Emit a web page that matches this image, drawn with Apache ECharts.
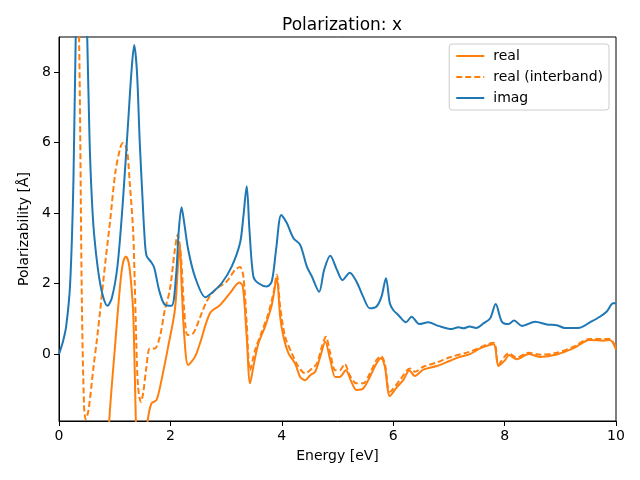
<!DOCTYPE html>
<html>
<head>
<meta charset="utf-8">
<script src="https://cdn.jsdelivr.net/npm/echarts@6/dist/echarts.min.js"></script>
<style>html,body{margin:0;padding:0;background:#fff}#c{width:640px;height:480px}</style>
</head>
<body>
<div id="c"></div>
<script>
const xTicks = [0, 2, 4, 6, 8, 10];
const yTicks = [0, 2, 4, 6, 8];

const realE = [0.86,0.9,1.0,1.1,1.15,1.2,1.25,1.29,1.33,1.36,1.38,1.42,1.5,1.56,1.59,1.66,1.75,1.84,1.96,2.08,2.14,2.17,2.2,2.25,2.32,2.44,2.53,2.71,2.89,3.07,3.24,3.30,3.37,3.43,3.50,3.58,3.70,3.82,3.91,3.97,4.03,4.12,4.24,4.33,4.42,4.51,4.60,4.69,4.78,4.87,4.96,5.04,5.15,5.25,5.34,5.46,5.58,5.70,5.78,5.85,5.94,6.06,6.18,6.29,6.39,6.54,6.78,7.02,7.20,7.38,7.56,7.80,7.89,8.01,8.08,8.22,8.43,8.64,8.94,9.23,9.53,9.77,9.89,10];
const realV = [-3.5,-1.93,0.11,2.0,2.6,2.77,2.6,2.1,1.25,-0.5,-1.93,-4,-4,-2.8,-1.93,-1.4,-1.31,-0.74,0.21,1.25,2.6,3.1,2.0,0.5,-0.31,-0.08,0.3,1.16,1.39,1.73,2.03,1.92,0.49,-0.83,-0.27,0.3,0.78,1.39,2.15,1.06,0.49,0.02,-0.27,-0.65,-0.74,-0.6,-0.5,-0.08,0.35,-0.17,-0.65,-0.65,-0.46,-0.79,-1.02,-0.98,-0.65,-0.27,-0.12,-0.36,-1.19,-0.95,-0.74,-0.47,-0.62,-0.44,-0.34,-0.19,-0.08,0.0,0.16,0.28,-0.34,-0.17,-0.03,-0.15,0.0,-0.08,-0.01,0.16,0.4,0.38,0.4,0.13];

const interE = [0.2,0.3,0.36,0.41,0.45,0.48,0.53,0.62,0.68,0.74,0.83,0.92,1.01,1.10,1.15,1.22,1.27,1.33,1.36,1.39,1.42,1.47,1.51,1.57,1.63,1.72,1.81,1.90,1.99,2.08,2.13,2.19,2.25,2.31,2.41,2.53,2.65,2.80,3.01,3.16,3.25,3.31,3.37,3.43,3.52,3.64,3.76,3.85,3.91,3.97,4.06,4.18,4.30,4.42,4.54,4.63,4.72,4.79,4.87,4.96,5.04,5.13,5.22,5.34,5.46,5.58,5.70,5.78,5.85,5.94,6.12,6.30,6.39,6.54,6.78,7.02,7.38,7.80,7.89,8.07,8.22,8.43,8.64,8.94,9.23,9.53,9.89,10];
const interV = [20,12,9,1.54,-1.5,-1.85,-1.59,-0.36,0.4,1.25,2.58,3.81,5.14,5.85,5.99,5.8,4.86,3.53,2.01,0.21,-0.93,-1.36,-1.12,-0.36,0.16,0.16,0.49,1.25,1.82,2.96,3.39,2.77,1.2,0.54,0.59,1.03,1.49,1.82,2.06,2.39,2.47,2.2,0.87,-0.46,0.11,0.63,1.16,1.73,2.25,1.35,0.49,0.02,-0.36,-0.55,-0.41,-0.27,0.21,0.49,0.02,-0.46,-0.46,-0.28,-0.6,-0.83,-0.83,-0.55,-0.17,-0.06,-0.27,-1.07,-0.74,-0.41,-0.5,-0.36,-0.24,-0.09,0.07,0.32,-0.29,0.02,-0.1,0.04,-0.02,0.04,0.2,0.43,0.43,0.16];

const imagE = [0,0.07,0.13,0.2,0.26,0.32,0.4,0.5,0.55,0.59,0.63,0.7,0.78,0.87,0.95,1.05,1.15,1.25,1.3,1.35,1.4,1.45,1.5,1.53,1.57,1.66,1.71,1.8,1.9,2.02,2.1,2.15,2.2,2.25,2.32,2.44,2.63,2.74,2.92,3.1,3.25,3.31,3.37,3.42,3.49,3.58,3.73,3.82,3.9,3.99,4.09,4.21,4.33,4.45,4.54,4.67,4.76,4.87,4.99,5.09,5.22,5.34,5.46,5.58,5.70,5.79,5.87,5.94,6.0,6.09,6.23,6.33,6.47,6.63,6.81,7.05,7.17,7.26,7.37,7.49,7.62,7.74,7.84,7.95,8.07,8.17,8.31,8.55,8.76,8.94,9.08,9.35,9.53,9.71,9.83,9.95,10];
const imagV = [0,0.35,0.8,2.0,5,11,16,9.5,6.0,4.4,3.4,2.4,1.7,1.37,1.6,2.5,4.4,6.8,8.0,8.77,8.0,6.0,4.4,3.5,2.8,2.6,2.45,1.8,1.4,1.37,2.2,3.5,4.17,3.7,2.96,2.2,1.61,1.73,2.01,2.48,3.15,3.9,4.76,3.5,2.2,2.01,1.92,2.06,3.0,3.95,3.72,3.29,3.1,2.48,2.2,1.77,2.39,2.79,2.39,2.1,2.31,2.06,1.63,1.3,1.35,1.63,2.15,1.44,1.25,1.11,0.9,1.06,0.85,0.9,0.8,0.71,0.76,0.73,0.78,0.74,0.87,1.01,1.42,0.92,0.85,0.95,0.8,0.92,0.84,0.82,0.74,0.75,0.9,1.06,1.2,1.44,1.44];

const zip = (a, b) => a.map((v, i) => [v, b[i]]);
const ORANGE = '#ff7f0e', BLUE = '#1f77b4';
const FONT = 'DejaVu Sans';
const SM = 0.3;

const chart = echarts.init(document.getElementById('c'), null, {renderer: 'canvas'});
chart.setOption({
  animation: false,
  backgroundColor: '#fff',
  title: {
    text: 'Polarization: x', left: 337, top: 12, textAlign: 'center',
    textStyle: {fontFamily: FONT, fontSize: 17, fontWeight: 'normal', color: '#000'}
  },
  grid: {left: 59, right: 24, top: 37, bottom: 59, show: true, borderColor: '#000', borderWidth: 1, backgroundColor: 'transparent'},
  legend: {
    orient: 'vertical', right: 31, top: 44,
    data: ['real', 'real (interband)', 'imag'],
    itemWidth: 28, itemHeight: 14, itemGap: 7,
    padding: [5, 6, 5, 6],
    itemStyle: {opacity: 0},
    backgroundColor: 'rgba(255,255,255,0.8)', borderColor: '#cccccc', borderWidth: 1, borderRadius: 3,
    textStyle: {fontFamily: FONT, fontSize: 14, color: '#000', padding: [0, 0, 0, 4]}
  },
  xAxis: {
    type: 'value', min: 0, max: 10, interval: 2,
    name: 'Energy [eV]', nameLocation: 'middle', nameGap: 28,
    nameTextStyle: {fontFamily: FONT, fontSize: 14, color: '#000'},
    axisLine: {show: true, onZero: false, lineStyle: {color: '#000', width: 1}},
    axisTick: {show: true, inside: false, length: 5, lineStyle: {color: '#000'}, customValues: xTicks},
    axisLabel: {fontFamily: FONT, fontSize: 14, color: '#000', margin: 8, customValues: xTicks},
    splitLine: {show: false}
  },
  yAxis: {
    type: 'value', min: -1.9, max: 9.0,
    name: 'Polarizability [Å]', nameLocation: 'middle', nameGap: 27,
    nameTextStyle: {fontFamily: FONT, fontSize: 14, color: '#000'},
    axisLine: {show: true, onZero: false, lineStyle: {color: '#000', width: 1}},
    axisTick: {show: true, inside: false, length: 5, lineStyle: {color: '#000'}, customValues: yTicks},
    axisLabel: {fontFamily: FONT, fontSize: 14, color: '#000', margin: 8, customValues: yTicks},
    splitLine: {show: false}
  },
  series: [
    {name: 'real', type: 'line', data: zip(realE, realV), showSymbol: false, symbol: 'none', smooth: SM, clip: true,
     lineStyle: {color: ORANGE, width: 2}, itemStyle: {color: ORANGE}},
    {name: 'real (interband)', type: 'line', data: zip(interE, interV), showSymbol: false, symbol: 'none', smooth: SM, clip: true,
     lineStyle: {color: ORANGE, width: 2, type: [6, 3]}, itemStyle: {color: ORANGE}},
    {name: 'imag', type: 'line', data: zip(imagE, imagV), showSymbol: false, symbol: 'none', smooth: SM, clip: true,
     lineStyle: {color: BLUE, width: 2}, itemStyle: {color: BLUE}}
  ]
});
</script>
</body>
</html>
